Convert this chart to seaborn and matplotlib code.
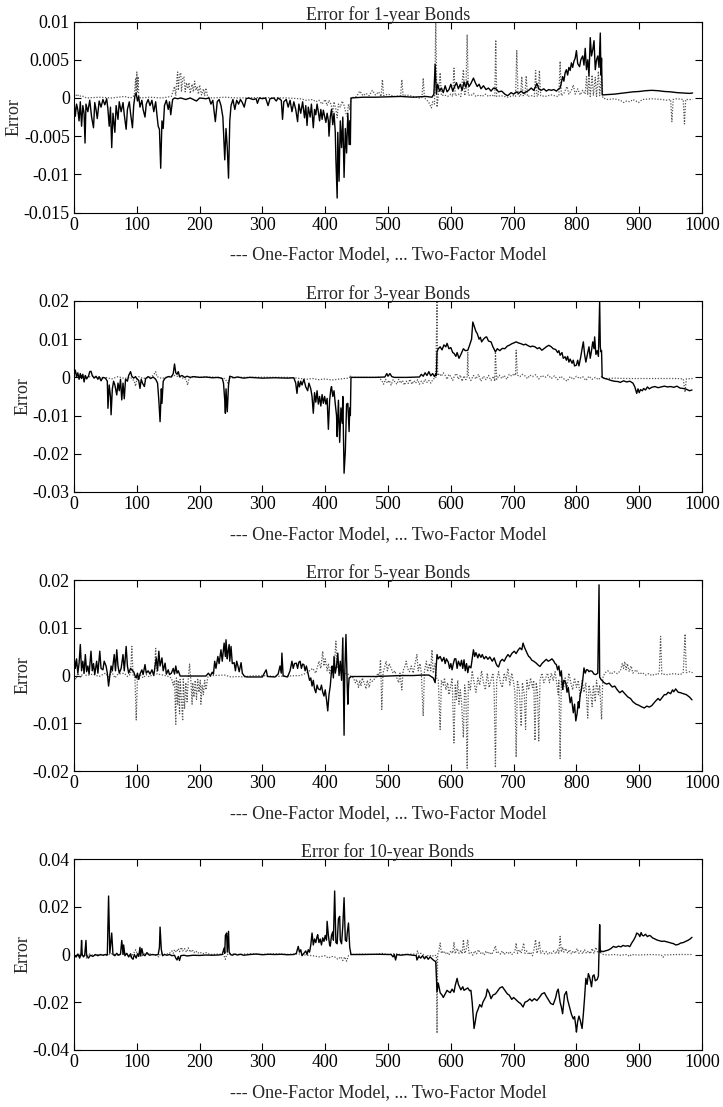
import numpy as np
import pandas as pd
import matplotlib
matplotlib.use("Agg")
import matplotlib.pyplot as plt
import seaborn as sns

# ---------------- data (x = observation index, y in units of 1e-3) ----------------
titles = ["Error for 1-year Bonds", "Error for 3-year Bonds",
          "Error for 5-year Bonds", "Error for 10-year Bonds"]
xlabel_text = "--- One-Factor Model, ... Two-Factor Model"
ylabel_text = "Error"
x_ticks = [0, 100, 200, 300, 400, 500, 600, 700, 800, 900, 1000]
x_tick_labels = ["0", "100", "200", "300", "400", "500", "600", "700", "800", "900", "1000"]
y_ticks_1y = [0.01, 0.005, 0, -0.005, -0.01, -0.015]
y_labels_1y = ["0.01", "0.005", "0", "-0.005", "-0.01", "-0.015"]
y_ticks_3y = [0.02, 0.01, 0, -0.01, -0.02, -0.03]
y_labels_3y = ["0.02", "0.01", "0", "-0.01", "-0.02", "-0.03"]
y_ticks_5y = [0.02, 0.01, 0, -0.01, -0.02]
y_labels_5y = ["0.02", "0.01", "0", "-0.01", "-0.02"]
y_ticks_10y = [0.04, 0.02, 0, -0.02, -0.04]
y_labels_10y = ["0.04", "0.02", "0", "-0.02", "-0.04"]

one_factor_1y = [(0,-0.5),(2,-2.4),(4,-0.8),(6,-1.5),(8,-3.0),(10,-0.5),(12,-3.7),(14,-1.0),(16,-2.0),(17.5,-5.9),(19,-0.8),(22,-1.8),(25,-0.3),(28,-2.5),(31,-3.9),(33,-0.6),(35,-1.5),(37,-2.7),(40,-0.4),(43,-1.2),(46,-0.2),(49,-0.9),(52,-0.1),(54,-1.5),(56,-3.7),(58,-1.2),(60,-6.5),(62,-2.0),(65,-4.5),(67,-1.0),(70,-2.8),(72,-0.5),(75,-1.8),(78,-0.6),(80,-2.2),(83,-4.1),(85,-1.5),(88,-0.5),(90,-2.0),(93,-3.9),(95,-1.0),(97,0.3),(99,0.6),(101,-0.4),(103,0.2),(105,-1.2),(108,-0.3),(110,-1.5),(113,-2.5),(115,-0.8),(118,-0.2),(121,-1.0),(124,-0.3),(127,-1.8),(130,-0.5),(132,-2.2),(134,-3.7),(136,-4.1),(138,-9.2),(140,-3.0),(142,-4.0),(144,-1.0),(147,-0.3),(150,-1.5),(152,-0.5),(154,-2.2),(157,-0.2),(160,0.0),(165,-0.1),(170,0.0),(178,-0.2),(185,0.0),(195,-0.4),(200,0.0),(210,-0.1),(215,0.0),(218,-0.8),(221,-0.3),(225,-3.1),(228,-0.5),(231,-0.2),(234,-1.0),(237,-2.5),(240,-8.1),(242,-4.0),(244,-6.5),(246,-10.5),(248,-3.0),(250,-1.0),(253,-0.2),(256,-1.5),(259,-0.3),(262,-0.8),(265,-0.2),(268,-0.6),(271,-1.2),(274,-0.1),(278,0.0),(285,-0.2),(290,-0.1),(292,-0.7),(295,0.0),(300,-0.1),(305,0.0),(309,-1.0),(312,-0.1),(318,0.0),(322,-0.4),(325,0.0),(330,-0.3),(332,-2.8),(334,-0.5),(338,-0.2),(341,-1.2),(344,-0.3),(347,-1.8),(350,-0.5),(353,-1.5),(356,-3.1),(358,-0.8),(361,-2.0),(364,-0.5),(367,-2.6),(369,-1.0),(371,-3.6),(373,-1.2),(376,-2.5),(378,-0.8),(381,-3.9),(383,-1.5),(385,-2.2),(387,-0.8),(389,-1.8),(391,-3.0),(393,-1.5),(395,-2.8),(397,-1.6),(399,-2.4),(401,-3.2),(403,-2.0),(405,-3.0),(406,-5.0),(408,-2.5),(410,-1.5),(412,-3.5),(414,-2.0),(416,-4.5),(417,-8.1),(419,-13.1),(420,-4.5),(422,-10.9),(424,-3.0),(426,-6.5),(428,-2.5),(430,-10.4),(432,-4.0),(434,-7.2),(436,-2.0),(438,-6.1),(439,-3.0),(440,-6.1),(441,0.0),(460,0.1),(480,0.1),(500,0.15),(520,0.2),(540,0.1),(560,0.2),(570,0.1),(573,0.5),(575,4.4),(577,0.5),(579,1.8),(582,0.9),(585,1.3),(588,0.7),(591,1.6),(594,0.8),(597,1.1),(600,1.8),(603,0.9),(606,1.5),(609,2.0),(612,1.2),(615,1.8),(618,1.0),(621,2.1),(624,1.4),(626,2.2),(629,1.5),(632,1.9),(636,2.6),(639,2.0),(642,1.5),(645,1.8),(648,1.2),(652,1.6),(656,1.1),(660,1.3),(664,0.9),(668,1.3),(672,1.2),(676,0.8),(681,0.9),(686,0.5),(690,0.3),(692,0.4),(696,0.7),(700,0.5),(704,0.8),(708,0.6),(712,0.9),(716,0.6),(720,0.8),(724,1.0),(728,1.3),(732,1.0),(735,1.5),(737,1.9),(740,1.2),(744,1.0),(748,1.2),(752,0.9),(756,1.1),(760,1.0),(764,1.1),(768,0.9),(772,1.2),(774,1.3),(776,2.0),(778,2.8),(780,2.2),(782,3.3),(784,3.7),(786,3.0),(788,4.0),(790,3.6),(792,4.6),(794,4.0),(796,4.8),(798,5.2),(800,6.2),(802,4.5),(805,4.1),(807,5.0),(810,5.5),(812,4.3),(814,6.5),(816,3.7),(818,5.0),(820,2.9),(822,7.9),(824,5.5),(826,6.3),(828,7.5),(830,3.7),(832,5.0),(834,5.5),(836,4.0),(838,8.5),(839,3.0),(840,5.2),(841,0.4),(850,0.45),(860,0.5),(870,0.6),(880,0.7),(890,0.8),(900,0.85),(910,0.95),(920,1.0),(930,0.95),(940,0.85),(950,0.8),(960,0.7),(970,0.65),(980,0.6),(985,0.65)]

two_factor_1y = [(0,0.0),(5,0.5),(8,0.2),(12,0.3),(20,0.0),(40,0.1),(60,0.0),(80,0.2),(90,0.0),(96,0.3),(98,2.5),(99,0.5),(100,3.4),(101,0.8),(102,2.8),(103,0.2),(106,0.0),(120,0.1),(140,0.0),(155,0.2),(160,1.5),(162,0.3),(164,2.8),(165,3.4),(166,1.0),(168,3.0),(170,3.3),(171,0.8),(173,2.5),(175,2.8),(177,0.8),(179,2.0),(181,1.2),(183,2.0),(185,0.6),(188,1.8),(190,0.8),(192,2.2),(194,1.0),(196,1.5),(198,0.5),(200,1.7),(203,0.4),(206,1.2),(208,0.3),(210,1.3),(213,0.1),(220,0.0),(240,0.1),(260,0.0),(300,0.05),(340,0.0),(360,-0.1),(370,-0.3),(380,-0.2),(385,-0.5),(390,-0.3),(395,-0.8),(400,-0.2),(403,-1.0),(406,-0.3),(409,-0.8),(412,-1.8),(414,-0.5),(417,-1.5),(419,-2.6),(421,-0.8),(424,-1.2),(427,-0.4),(430,-1.0),(433,-2.0),(435,-2.4),(437,-0.8),(439,-1.5),(441,0.0),(450,0.2),(455,0.9),(460,0.3),(465,0.6),(470,0.3),(475,1.0),(480,0.4),(485,0.8),(489,0.2),(491,2.4),(493,0.3),(500,0.5),(510,0.2),(520,0.3),(522,2.4),(524,0.3),(530,0.4),(540,0.2),(550,0.0),(554,0.1),(556,2.6),(558,0.0),(562,-0.3),(565,-0.6),(569,-1.3),(571,-0.5),(574,-0.8),(576,10.0),(578,-1.2),(580,0.3),(583,3.3),(585,0.3),(590,0.4),(595,0.2),(600,0.5),(603,0.2),(605,3.9),(607,0.3),(612,0.5),(616,0.2),(620,3.7),(622,0.3),(624,1.0),(626,8.3),(628,0.4),(632,0.3),(636,0.6),(640,0.2),(645,0.4),(650,0.2),(655,0.5),(660,0.2),(665,0.4),(670,0.2),(671.5,7.6),(673,0.2),(680,0.3),(690,0.1),(700,0.3),(703,0.2),(705,6.2),(707,0.3),(711,0.2),(713,2.8),(715,0.3),(718,0.4),(720,2.9),(722,0.2),(728,0.3),(733,0.2),(735,3.6),(737,0.3),(739,0.2),(741,3.6),(743,0.3),(750,0.2),(760,0.4),(770,0.2),(772,0.3),(774,4.8),(776,0.3),(780,0.6),(785,1.5),(788,0.5),(792,1.0),(795,1.7),(798,0.5),(802,1.2),(806,0.4),(810,1.0),(814,0.5),(816,2.8),(818,0.4),(820,2.9),(822,0.2),(825,3.0),(827,0.3),(830,2.7),(832,0.2),(835,3.5),(837,0.3),(840,3.0),(842,0.0),(850,-0.2),(860,-0.1),(870,-0.3),(875,-0.6),(880,-0.4),(885,-0.5),(890,-0.2),(899,-0.6),(905,-0.2),(920,-0.1),(935,-0.2),(945,-0.3),(950,-0.2),(952,-3.1),(954,-0.2),(960,-0.1),(970,-0.2),(972,-3.4),(974,-0.2),(985,-0.2)]

one_factor_3y = [(0,0.5),(2,1.9),(4,0.2),(6,1.2),(8,-0.5),(10,1.0),(12,-0.3),(14,0.8),(16,-1.2),(18,0.5),(20,-0.4),(23,0.3),(25,1.5),(27,1.6),(29,0.5),(32,-0.2),(35,0.3),(38,-0.5),(40,0.2),(43,-0.9),(46,0.0),(50,-0.2),(53,-1.0),(54,-8.1),(56,-2.0),(58,-5.0),(59,-9.8),(61,-3.0),(63,-1.0),(65,-2.0),(68,-4.6),(70,-1.5),(72,-3.5),(74,-0.5),(76,-5.9),(78,-1.5),(80,-5.6),(82,-0.5),(85,-1.0),(87,0.5),(90,1.5),(92,0.3),(95,-0.2),(98,0.2),(100,-0.4),(103,-0.8),(105,-2.9),(107,-0.5),(109,-1.5),(112,-2.4),(114,-0.3),(118,0.2),(122,-0.3),(126,0.1),(130,-0.5),(133,-1.5),(135,-5.9),(137,-11.6),(139,-3.0),(140,-6.8),(142,-1.0),(145,-0.2),(150,0.2),(155,0.1),(158,1.0),(160,3.5),(162,1.2),(164,0.8),(166,1.5),(168,0.2),(172,0.5),(176,0.0),(180,0.3),(185,0.0),(190,0.2),(200,0.0),(210,0.1),(220,-0.1),(230,0.0),(236,-0.3),(238,-1.5),(240,-6.0),(241,-9.4),(242,-3.0),(244,-9.0),(246,-2.0),(248,0.3),(250,0.2),(255,-0.1),(260,0.1),(270,-0.2),(280,0.0),(290,-0.1),(300,-0.2),(320,-0.1),(340,-0.2),(350,-0.1),(353,-1.5),(355,-4.2),(357,-1.0),(359,-2.5),(361,-1.0),(363,-2.0),(366,-0.5),(369,-2.5),(372,-3.5),(374,-1.5),(377,-3.0),(379,-5.0),(381,-9.4),(383,-4.0),(385,-6.5),(387,-3.5),(389,-7.0),(391,-5.0),(393,-7.5),(395,-4.5),(397,-6.8),(399,-5.0),(401,-7.0),(403,-5.5),(405,-13.6),(407,-6.0),(409,-3.0),(410,-2.4),(412,-5.0),(414,-3.5),(416,-7.0),(418,-10.0),(419,-15.5),(421,-6.0),(423,-17.0),(425,-8.0),(427,-12.0),(428,-5.0),(430,-25.1),(432,-19.4),(434,-7.0),(436,-6.8),(438,-14.2),(439,-8.0),(440,-10.0),(441,0.0),(460,0.0),(480,0.0),(495,0.1),(498,1.0),(500,0.3),(503,1.0),(506,0.2),(510,0.0),(530,0.0),(550,0.1),(553,0.8),(556,0.3),(559,1.2),(562,0.5),(565,1.5),(568,0.4),(571,1.0),(574,0.2),(576,1.0),(577,0.5),(578,6.7),(580,7.5),(583,8.0),(586,7.2),(589,8.5),(592,8.0),(594,8.9),(597,7.5),(600,7.8),(603,6.5),(605,6.3),(608,5.5),(610,6.5),(613,5.0),(616,6.0),(620,7.5),(623,7.0),(627,7.1),(630,8.5),(633,10.0),(635,14.5),(638,13.0),(640,12.0),(642,11.5),(645,10.0),(647,10.5),(649,9.3),(652,10.0),(655,10.5),(657,10.6),(660,9.5),(664,9.3),(667,8.0),(671,6.7),(674,7.5),(678,7.0),(682,7.6),(686,7.5),(690,8.2),(693,8.4),(697,8.8),(700,9.0),(704,9.3),(708,9.0),(712,8.8),(716,8.5),(719,8.7),(723,8.3),(727,8.0),(730,8.2),(734,8.0),(738,7.5),(741,7.8),(745,7.1),(748,7.5),(752,8.0),(756,8.4),(760,8.0),(763,7.5),(767,7.3),(770,6.5),(772,7.0),(774,5.8),(777,6.5),(779,5.0),(782,5.4),(784,4.5),(786,5.5),(788,4.0),(790,4.8),(793,3.7),(795,4.5),(797,3.0),(800,3.2),(802,4.5),(804,3.0),(807,5.5),(809,7.5),(811,9.3),(813,6.0),(815,4.0),(818,6.5),(820,8.0),(822,5.0),(824,7.0),(826,9.3),(828,7.5),(829,10.6),(831,6.0),(833,7.0),(835,5.5),(837,20.0),(838,8.0),(839,6.7),(840,7.0),(841,0.0),(845,-0.3),(850,-0.5),(855,-0.8),(860,-1.0),(866,-1.1),(870,-1.3),(875,-0.9),(880,-1.2),(885,-1.0),(890,-1.5),(893,-2.5),(896,-4.2),(898,-3.0),(900,-4.0),(902,-3.2),(905,-3.5),(907,-2.9),(910,-3.3),(913,-2.5),(916,-3.0),(920,-2.6),(925,-2.4),(930,-2.7),(935,-2.5),(940,-2.3),(945,-2.5),(950,-2.4),(955,-2.6),(960,-2.3),(965,-2.8),(970,-2.9),(975,-3.1),(980,-3.5),(984,-3.3)]

two_factor_3y = [(0,0.3),(5,0.8),(8,-0.3),(12,0.5),(20,0.0),(30,0.3),(40,-0.2),(50,0.0),(60,-0.4),(70,0.2),(80,-0.3),(90,0.0),(96,-1.0),(98,-2.3),(100,-0.5),(103,0.2),(110,-0.3),(120,0.0),(126,0.5),(130,1.5),(132,0.2),(140,-0.3),(150,0.2),(160,0.5),(170,0.0),(178,-0.5),(181,-2.0),(183,-0.3),(190,0.2),(200,0.0),(220,0.1),(240,-0.3),(245,-1.5),(248,-0.2),(260,0.0),(300,0.05),(340,0.0),(355,-0.2),(370,-0.5),(380,-0.3),(390,-0.6),(400,-0.4),(410,-0.7),(420,-0.5),(430,-0.3),(438,-0.2),(440,0.5),(441,0.0),(485,0.0),(490,-0.8),(493,-1.8),(496,-0.5),(499,-1.5),(502,-0.8),(505,-2.0),(508,-0.6),(511,-1.2),(514,-1.8),(517,-0.5),(520,-1.5),(523,-0.8),(526,-2.0),(529,-1.0),(532,-1.6),(535,-0.5),(538,-1.8),(541,-0.9),(544,-1.5),(547,-0.6),(550,-1.8),(553,-1.0),(556,-1.6),(559,-0.5),(562,-1.3),(565,-0.8),(568,-1.5),(572,-0.4),(576,-0.2),(578,20.0),(579,0.5),(582,1.0),(585,0.3),(588,1.2),(591,0.5),(594,-0.5),(597,0.8),(600,0.2),(603,-0.8),(606,0.5),(609,1.0),(612,-0.5),(615,0.6),(618,-1.0),(621,0.4),(624,-0.6),(626,0.2),(627,6.7),(628,0.3),(632,-0.8),(636,0.5),(640,-0.4),(644,0.8),(648,-1.0),(652,0.3),(656,-0.6),(660,0.5),(664,-0.8),(668,0.3),(670,-1.0),(671,6.7),(673,-0.5),(677,0.6),(681,-0.3),(685,0.5),(689,-0.5),(693,0.8),(697,0.3),(701,1.0),(703,0.5),(704,7.1),(706,0.6),(710,0.2),(714,0.8),(718,0.4),(722,-0.3),(726,0.6),(730,0.2),(735,0.7),(740,-0.4),(745,0.5),(750,0.0),(755,0.6),(760,-0.3),(765,0.4),(770,-0.6),(775,0.3),(780,-0.4),(785,-1.0),(790,0.2),(795,-0.5),(800,0.3),(805,-0.3),(810,0.2),(815,-0.8),(820,0.3),(825,-0.5),(830,0.0),(835,-0.6),(840,0.2),(845,-0.3),(860,-0.2),(880,-0.3),(900,-0.3),(920,-0.3),(940,-0.3),(960,-0.3),(970,-0.4),(973,-3.9),(975,-0.4),(985,-0.3)]

one_factor_5y = [(0,4.0),(2,1.5),(4,3.5),(6,0.5),(8,2.5),(10,6.5),(12,1.0),(14,3.0),(16,0.5),(18,4.4),(20,0.8),(22,2.0),(24,0.3),(27,5.1),(29,1.0),(31,2.5),(33,0.2),(36,3.0),(38,0.5),(41,5.1),(43,1.5),(46,1.2),(48,3.0),(51,2.0),(53,0.5),(55,-2.2),(57,0.0),(59,2.0),(61,1.0),(64,4.4),(66,1.0),(68,5.4),(70,2.0),(72,0.5),(75,1.5),(78,4.4),(80,1.0),(83,6.1),(85,2.0),(87,0.5),(90,1.5),(92,1.2),(95,0.8),(97,0.0),(99,-0.5),(101,0.5),(103,-0.8),(105,0.3),(108,1.2),(110,0.2),(113,2.3),(115,0.5),(118,1.0),(121,0.3),(124,1.2),(127,0.0),(129,2.0),(131,3.7),(133,1.0),(135,5.1),(137,2.0),(140,3.7),(142,1.0),(145,2.6),(147,0.3),(150,1.2),(152,0.2),(155,0.5),(158,1.5),(160,0.3),(162,2.0),(164,0.5),(166,1.0),(169,-0.1),(175,-0.1),(185,-0.1),(200,-0.1),(210,-0.1),(214,0.5),(217,-0.1),(220,0.7),(222,0.3),(224,3.0),(226,1.5),(229,4.0),(231,2.5),(234,5.4),(236,3.0),(239,6.8),(241,4.0),(242,7.5),(244,3.5),(245,4.8),(247,6.5),(248,3.0),(250,6.1),(252,2.5),(255,2.7),(257,1.0),(259,3.0),(261,2.0),(263,0.8),(266,2.7),(268,0.5),(271,-0.1),(275,-0.3),(290,-0.3),(300,-0.3),(303,0.5),(306,1.2),(308,-0.2),(320,-0.3),(325,0.3),(328,2.0),(330,0.5),(331,4.7),(333,-0.1),(340,-0.3),(344,1.0),(347,3.0),(349,1.5),(351,2.5),(354,2.6),(356,1.5),(358,2.8),(360,3.0),(362,1.5),(364,2.4),(366,2.3),(368,1.0),(370,2.0),(373,0.2),(375,-1.0),(377,-0.5),(379,-2.2),(381,-1.0),(383,-2.8),(385,-3.6),(387,-2.0),(389,-2.8),(392,-3.0),(394,-2.0),(396,-3.5),(398,-4.3),(400,-3.0),(402,-5.0),(404,-7.4),(406,-4.0),(408,-2.2),(410,1.0),(411,2.0),(413,-0.5),(414,4.0),(416,0.5),(418,2.0),(420,4.7),(422,0.0),(424,3.0),(426,-1.0),(428,7.9),(430,-12.5),(431,0.0),(433,8.6),(435,-2.0),(436,-6.0),(437,-2.5),(438,-0.5),(440,-0.4),(441,-0.2),(460,-0.2),(480,-0.2),(500,-0.1),(520,0.0),(540,0.0),(555,0.1),(565,0.1),(572,-0.5),(575,-1.5),(576,0.5),(578,4.4),(580,3.5),(583,4.0),(586,3.0),(589,3.8),(591,2.5),(593,3.5),(596,2.8),(598,1.5),(600,2.5),(602,1.2),(604,2.5),(606,3.5),(608,3.5),(610,1.5),(612,3.0),(615,2.0),(617,3.2),(619,1.5),(621,3.3),(623,1.0),(625,2.5),(627,0.6),(629,2.0),(632,1.6),(634,3.5),(636,5.4),(638,4.0),(640,4.8),(643,3.7),(645,4.5),(648,3.8),(650,4.4),(653,3.5),(656,4.0),(659,3.4),(662,3.9),(666,3.0),(669,3.7),(672,2.5),(674,2.0),(676,1.8),(679,3.0),(682,3.4),(685,3.0),(688,3.8),(691,4.4),(694,3.9),(697,4.6),(701,5.1),(704,4.6),(707,5.3),(710,5.8),(713,5.4),(715,6.8),(717,6.0),(720,5.1),(722,4.5),(724,4.0),(726,3.8),(729,3.2),(732,3.0),(736,2.6),(739,2.2),(742,1.9),(745,2.5),(749,3.0),(752,3.4),(755,3.0),(758,3.2),(761,3.5),(764,3.0),(766,2.5),(768,2.3),(770,1.2),(772,2.0),(774,-0.1),(776,1.0),(778,-2.9),(780,-1.0),(783,-1.5),(785,-3.5),(787,-2.5),(790,-5.7),(792,-4.5),(795,-7.8),(797,-6.0),(799,-9.5),(801,-8.0),(803,-5.5),(804,-6.8),(806,-4.0),(808,-2.9),(810,-1.0),(812,1.6),(814,0.5),(816,1.2),(818,1.2),(820,0.8),(822,1.0),(825,0.9),(828,0.3),(831,0.2),(834,0.5),(836,19.0),(837,-0.3),(839,-0.8),(842,-1.2),(844,-1.5),(848,-1.8),(852,-1.6),(857,-2.4),(861,-2.2),(865,-3.0),(869,-3.6),(873,-3.2),(877,-3.8),(882,-4.5),(886,-4.8),(890,-5.5),(895,-6.0),(899,-6.2),(903,-6.5),(908,-6.8),(912,-6.4),(916,-6.6),(920,-6.3),(925,-5.5),(930,-4.8),(933,-5.2),(937,-4.5),(940,-4.0),(943,-4.0),(946,-3.5),(950,-3.8),(953,-3.0),(955,-3.4),(958,-2.8),(962,-3.5),(966,-3.6),(970,-3.8),(975,-4.0),(980,-4.5),(984,-5.1)]

two_factor_5y = [(0,0.0),(3,-0.8),(6,0.5),(10,-0.3),(15,0.5),(20,0.0),(30,0.3),(40,-0.2),(50,0.5),(55,-0.3),(60,0.8),(65,-0.5),(70,0.3),(80,0.5),(85,-0.2),(90,0.3),(92,6.1),(94,0.2),(97,-0.5),(99,-9.3),(101,-0.3),(103,-0.8),(105,0.3),(110,-0.5),(115,0.2),(120,-0.3),(125,0.2),(128,0.5),(130,5.7),(132,0.3),(138,0.2),(145,0.0),(150,-0.2),(155,-0.5),(158,-2.0),(160,-1.0),(162,-10.2),(163,-0.5),(165,-6.0),(166,-1.0),(168,-8.0),(169,-0.8),(171,-5.0),(173,-9.5),(174,-0.5),(176,-7.0),(178,-1.5),(180,-5.5),(182,-0.5),(184,2.4),(186,-1.0),(188,-6.0),(189,-1.5),(191,-4.5),(193,-1.0),(195,-5.0),(197,-0.8),(199,-3.5),(201,-1.0),(202,-6.0),(204,-2.0),(206,-4.0),(208,-1.0),(210,-3.0),(213,-0.3),(220,0.0),(240,0.1),(250,-0.3),(260,-0.2),(270,-0.3),(280,-0.1),(300,0.0),(320,-0.2),(340,-0.1),(360,0.0),(370,0.5),(380,1.5),(385,0.5),(390,3.0),(393,1.5),(396,5.1),(398,2.0),(400,3.5),(403,1.0),(405,2.5),(407,0.5),(410,2.0),(414,1.0),(417,7.2),(419,1.5),(421,2.0),(423,0.5),(425,1.0),(430,0.3),(435,0.5),(438,0.0),(441,-0.2),(445,-0.5),(448,-1.5),(450,-0.8),(453,-2.5),(455,-1.0),(457,-2.2),(459,-0.5),(462,-1.5),(465,-2.8),(467,-1.0),(470,-2.5),(472,-0.8),(475,-1.2),(480,-0.5),(484,0.5),(486,-0.2),(488,3.3),(489,-1.0),(490,-7.1),(492,0.5),(495,2.0),(497,3.0),(499,1.0),(502,2.5),(505,1.5),(508,0.5),(511,1.0),(514,-0.5),(517,-1.5),(519,0.5),(522,-3.0),(524,1.0),(527,2.0),(529,3.0),(531,1.5),(534,0.8),(537,2.0),(540,0.5),(543,2.5),(546,4.4),(548,1.0),(551,2.5),(553,0.5),(556,-8.5),(558,1.0),(561,3.0),(563,0.8),(566,2.5),(568,1.0),(570,5.4),(572,0.5),(575,2.5),(577,-0.5),(580,-0.8),(583,-11.3),(585,-1.0),(588,-2.0),(590,-0.5),(592,-3.0),(595,-1.5),(597,-4.0),(600,-2.0),(602,-0.5),(605,-14.1),(607,-2.0),(609,-5.0),(611,-1.0),(613,-6.0),(615,-3.0),(617,-5.5),(620,-13.0),(622,-2.0),(624,-4.0),(626,-19.4),(628,-1.0),(631,-3.0),(634,1.0),(637,-1.5),(640,-3.5),(643,-0.5),(646,-2.0),(649,1.0),(652,-1.5),(655,-3.0),(658,0.5),(661,-2.5),(664,-1.0),(667,0.5),(669,-3.0),(671,-19.3),(673,-1.0),(676,0.8),(679,-1.5),(682,-2.5),(685,0.5),(688,-1.0),(691,1.5),(694,-2.0),(697,0.5),(700,-1.5),(702,-3.5),(704,-17.1),(706,-1.0),(709,-3.0),(712,-10.6),(714,-1.5),(717,-4.0),(719,-11.3),(721,-1.0),(724,-3.0),(727,-0.5),(730,-2.5),(732,-1.0),(734,-13.6),(736,-1.5),(738,-3.5),(740,-13.7),(742,-1.0),(745,0.5),(748,-1.5),(751,-0.5),(754,0.5),(757,-1.5),(760,0.5),(763,-1.0),(766,0.8),(769,-2.0),(771,-4.0),(772,-1.0),(774,-17.4),(776,-1.0),(779,-3.0),(782,-0.5),(785,-2.5),(788,0.5),(791,-1.5),(794,-3.0),(797,-0.5),(800,-2.5),(803,-1.0),(806,-4.5),(809,-1.0),(812,-3.5),(815,-1.5),(818,-8.9),(820,-2.0),(823,-4.0),(825,-6.5),(827,-2.0),(830,-5.5),(832,-1.0),(835,-4.0),(837,-2.0),(840,-9.2),(842,-0.5),(845,0.5),(850,1.0),(855,0.3),(860,0.8),(865,0.4),(870,1.0),(873,2.5),(875,1.5),(877,2.9),(879,1.2),(881,2.5),(884,0.8),(887,2.0),(890,0.5),(895,1.2),(900,0.3),(905,0.6),(910,0.1),(915,0.4),(920,0.0),(925,0.3),(930,0.2),(932,1.0),(934,8.2),(936,0.3),(945,0.2),(955,0.4),(965,0.2),(970,0.5),(973,8.7),(975,0.6),(980,0.8),(985,0.6)]

one_factor_10y = [(0,-0.5),(3,-1.0),(6,0.2),(9,-1.5),(11,0.0),(12,5.9),(13,0.0),(15,-1.0),(17,-0.2),(19,5.9),(20,-0.5),(23,-1.5),(26,-0.3),(30,-0.8),(34,0.0),(38,-0.5),(42,0.0),(46,-0.3),(50,0.0),(53,-0.2),(55,24.5),(57,0.5),(60,9.0),(62,0.0),(65,-0.5),(68,0.5),(71,-0.3),(74,0.2),(76,5.9),(78,0.0),(79,4.0),(81,-0.5),(84,0.5),(87,-1.0),(90,0.3),(92,-1.5),(94,-2.0),(96,0.0),(99,-1.5),(101,0.3),(103,-0.8),(105,3.0),(106,-0.5),(108,2.5),(110,0.0),(113,-0.5),(116,0.8),(120,-0.3),(125,0.0),(130,-0.2),(134,0.0),(136,3.0),(137,11.5),(139,2.0),(141,-0.5),(144,0.0),(148,-0.3),(152,0.0),(156,-0.5),(160,-0.3),(162,-1.5),(164,-2.3),(166,-0.8),(168,-2.5),(170,-0.5),(175,-0.3),(180,-0.6),(190,-0.3),(200,-0.4),(210,-0.2),(220,-0.3),(230,-0.2),(236,0.0),(239,2.7),(240,0.5),(241,8.0),(243,9.0),(244,1.0),(246,9.7),(247,1.0),(249,0.0),(252,-0.3),(256,0.2),(260,-0.2),(265,0.1),(270,-0.3),(280,0.0),(290,0.2),(300,-0.1),(310,0.1),(320,0.0),(330,0.1),(340,-0.1),(350,0.0),(354,0.5),(357,3.4),(359,1.0),(361,2.0),(363,-0.5),(366,0.5),(369,1.5),(371,0.0),(373,2.0),(375,1.0),(377,4.0),(379,9.0),(381,4.0),(383,6.5),(385,5.0),(387,7.5),(388,8.3),(390,5.0),(392,6.5),(394,4.0),(396,7.0),(398,5.5),(400,8.0),(402,6.0),(403,13.9),(405,8.0),(407,4.0),(408,3.5),(410,8.0),(412,9.5),(413,6.0),(415,26.6),(417,5.0),(419,4.5),(421,15.0),(423,16.0),(424,6.0),(426,4.5),(428,12.0),(430,23.8),(432,6.0),(434,5.5),(435,9.0),(437,13.2),(439,3.0),(441,0.0),(460,0.0),(480,0.1),(500,0.0),(505,0.0),(508,-1.0),(510,0.0),(512,-2.3),(514,0.0),(520,-0.3),(530,0.0),(540,-0.3),(545,-0.5),(546,-2.3),(549,-0.8),(552,-1.5),(555,-0.5),(558,-1.8),(561,-0.8),(564,-2.0),(567,-1.0),(570,-1.8),(573,-2.5),(576,-3.0),(578,-15.6),(580,-12.0),(583,-16.0),(586,-17.0),(588,-18.0),(591,-16.5),(594,-15.0),(596,-15.5),(599,-16.0),(602,-14.5),(605,-15.8),(607,-13.0),(610,-10.0),(612,-12.5),(616,-14.8),(619,-13.5),(621,-15.0),(624,-14.5),(627,-14.0),(630,-15.2),(632,-15.0),(634,-20.0),(637,-31.0),(639,-28.0),(641,-24.5),(644,-22.5),(646,-21.0),(649,-22.0),(651,-20.0),(653,-19.0),(656,-17.5),(658,-14.5),(661,-16.0),(664,-18.5),(667,-17.0),(671,-16.5),(674,-15.5),(678,-14.0),(682,-13.5),(686,-15.0),(690,-16.5),(693,-17.0),(697,-18.8),(700,-18.0),(704,-19.0),(708,-20.0),(711,-20.5),(715,-22.0),(718,-20.0),(722,-19.5),(726,-18.6),(729,-19.5),(733,-18.5),(737,-19.3),(741,-18.0),(745,-16.5),(749,-16.0),(752,-17.5),(756,-19.2),(759,-20.5),(763,-21.0),(767,-18.0),(769,-15.5),(771,-14.5),(774,-20.0),(776,-22.0),(778,-24.8),(781,-17.0),(784,-15.5),(786,-19.0),(789,-22.0),(792,-25.0),(795,-27.0),(797,-26.0),(799,-30.0),(800,-32.5),(802,-28.0),(804,-25.8),(806,-27.5),(809,-31.0),(811,-25.0),(813,-18.0),(815,-10.0),(817,-12.5),(819,-8.0),(821,-9.5),(823,-12.0),(824,-13.5),(826,-9.0),(828,-8.5),(830,-11.0),(833,-10.5),(835,-9.0),(837,12.5),(838,1.0),(839,1.5),(842,1.2),(846,1.5),(851,1.9),(855,2.5),(859,3.4),(863,3.0),(867,3.5),(871,3.2),(874,3.8),(878,3.5),(882,3.7),(885,3.3),(888,4.8),(891,6.0),(894,7.5),(896,9.0),(899,8.5),(901,7.5),(903,9.2),(905,8.0),(907,7.8),(910,8.5),(913,7.5),(916,8.0),(918,7.8),(921,7.0),(925,6.5),(929,6.0),(932,5.8),(936,5.5),(940,5.6),(944,5.3),(948,5.0),(951,4.8),(955,4.5),(958,4.0),(962,4.2),(966,4.8),(970,5.0),(974,5.5),(978,6.0),(981,6.5),(984,7.2)]

two_factor_10y = [(0,0.0),(4,-1.0),(8,0.5),(12,-0.5),(16,-0.2),(20,-1.5),(23,0.3),(30,-0.3),(40,0.0),(50,-0.5),(60,0.3),(70,-0.3),(80,0.5),(90,-1.0),(95,0.5),(98,2.0),(100,0.8),(103,0.3),(108,-1.0),(110,0.2),(120,0.3),(130,-0.3),(135,-1.0),(138,0.5),(145,0.0),(152,0.5),(156,1.5),(158,0.5),(160,2.0),(163,1.0),(166,2.5),(168,1.2),(171,3.0),(173,1.5),(176,2.5),(179,1.0),(182,2.8),(185,1.0),(188,2.0),(191,0.8),(194,1.5),(197,0.5),(200,1.0),(205,0.3),(210,0.8),(215,0.2),(220,0.0),(230,0.2),(238,0.0),(241,-2.0),(243,0.0),(250,0.3),(260,0.0),(280,0.3),(300,0.1),(320,0.3),(340,0.1),(360,0.2),(370,-0.3),(380,-0.5),(390,-1.0),(400,-0.5),(405,-1.5),(410,-0.8),(415,-1.0),(420,-2.0),(425,-1.0),(428,-2.5),(431,-1.0),(434,-2.8),(437,-0.5),(441,0.0),(460,0.2),(480,0.0),(490,0.5),(495,0.2),(500,0.0),(510,0.3),(520,0.0),(540,0.2),(545,0.0),(547,1.5),(549,-0.5),(552,0.5),(556,0.0),(560,-1.0),(565,-0.2),(570,-0.8),(574,-0.2),(577,-0.5),(578,-33.0),(579,0.0),(581,1.5),(583,4.8),(585,0.5),(588,1.5),(591,0.3),(594,1.0),(597,-0.2),(600,1.5),(603,0.5),(605,5.2),(607,0.3),(610,2.5),(613,0.5),(616,1.8),(618,0.3),(620,6.2),(622,0.5),(624,1.5),(627,6.2),(629,0.5),(632,1.0),(635,-0.3),(638,1.5),(641,0.3),(644,2.0),(647,0.5),(650,1.0),(653,-0.2),(656,1.5),(659,0.3),(662,1.0),(665,0.0),(668,1.5),(671,3.6),(673,0.5),(676,1.0),(679,0.2),(682,1.5),(685,0.0),(688,1.0),(691,0.3),(694,1.2),(697,0.0),(700,0.5),(702,1.5),(704,4.8),(706,0.5),(709,2.0),(712,0.5),(714,2.5),(716,4.8),(718,0.5),(721,1.5),(724,0.0),(727,1.0),(730,-0.5),(732,1.5),(735,6.2),(737,0.5),(739,2.0),(741,5.5),(743,0.5),(746,1.5),(749,0.3),(752,1.2),(755,0.0),(758,1.0),(761,0.5),(764,1.5),(767,0.3),(770,2.0),(772,0.5),(774,7.6),(776,1.0),(778,3.0),(780,1.0),(783,2.5),(786,0.5),(789,2.0),(792,0.3),(795,1.5),(798,0.5),(801,2.5),(804,0.5),(807,1.5),(810,0.3),(813,2.0),(816,0.5),(819,1.5),(822,0.3),(825,2.5),(828,0.5),(831,3.0),(834,0.8),(837,1.5),(840,0.3),(843,0.0),(850,-0.2),(860,0.0),(870,-0.3),(880,0.0),(885,-0.8),(887,0.0),(900,-0.2),(920,0.0),(935,-0.2),(938,-1.2),(940,-0.2),(960,0.0),(980,0.0),(985,0.0)]

y_scale = 1e-3  # values above are in thousandths

# ---------------- styling ----------------
sns.set_theme(style="white")
plt.rcParams["font.family"] = ["Liberation Serif", "DejaVu Serif"]
plt.rcParams["axes.linewidth"] = 0.8

fig = plt.figure(figsize=(7.23, 11.07), dpi=100)
bottoms = [0.808, 0.5556, 0.3035, 0.0515]
panels = [
    (one_factor_1y, two_factor_1y, y_ticks_1y, y_labels_1y, (-0.015, 0.01)),
    (one_factor_3y, two_factor_3y, y_ticks_3y, y_labels_3y, (-0.03, 0.02)),
    (one_factor_5y, two_factor_5y, y_ticks_5y, y_labels_5y, (-0.02, 0.02)),
    (one_factor_10y, two_factor_10y, y_ticks_10y, y_labels_10y, (-0.04, 0.04)),
]
FS = 13

for i, (one, two, yt, yl, ylim) in enumerate(panels):
    ax = fig.add_axes([0.1024, bottoms[i], 0.8686, 0.1725])
    d1 = pd.DataFrame(one, columns=["x", "y"])
    d1["y"] = d1["y"] * y_scale
    d2 = pd.DataFrame(two, columns=["x", "y"])
    d2["y"] = d2["y"] * y_scale
    sns.lineplot(data=d2, x="x", y="y", ax=ax, color="#555555", lw=0.9,
                 linestyle=(0, (1, 1.3)), estimator=None, sort=False)
    sns.lineplot(data=d1, x="x", y="y", ax=ax, color="black", lw=1.0,
                 estimator=None, sort=False)
    ax.set_xlim(0, 1000)
    ax.set_ylim(*ylim)
    ax.set_xticks(x_ticks)
    ax.set_xticklabels(x_tick_labels, fontsize=FS)
    ax.set_yticks(yt)
    ax.set_yticklabels(yl, fontsize=FS)
    ax.tick_params(direction="in", length=5, width=0.8, top=True, right=True,
                   bottom=True, left=True, pad=3, colors="black")
    for s in ax.spines.values():
        s.set_color("black")
        s.set_linewidth(0.8)
    ax.set_title(titles[i], fontsize=FS, pad=1.5)
    ax.set_xlabel(xlabel_text, fontsize=FS, labelpad=9)
    ax.set_ylabel(ylabel_text, fontsize=FS, labelpad=1)

fig.savefig("out.png", dpi=100)
